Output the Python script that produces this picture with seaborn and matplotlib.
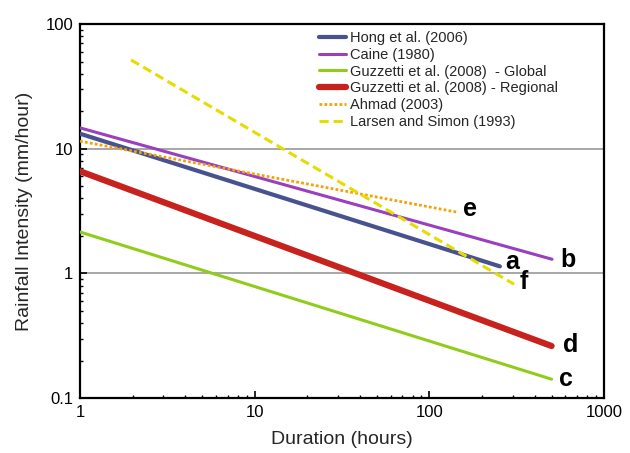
import matplotlib
matplotlib.use("Agg")
import matplotlib.pyplot as plt
import matplotlib.ticker as mticker
import pandas as pd
import seaborn as sns

# rainfall intensity-duration thresholds, endpoints (hours, mm/hour)
SERIES = [
    "Hong et al. (2006)",
    "Caine (1980)",
    "Guzzetti et al. (2008)  - Global",
    "Guzzetti et al. (2008) - Regional",
    "Ahmad (2003)",
    "Larsen and Simon (1993)",
]
DURATION = [
    [1, 253],
    [1, 503],
    [1, 500],
    [1, 500],
    [1, 144],
    [1.96, 305],
]
INTENSITY = [
    [13.2, 1.14],
    [14.7, 1.30],
    [2.15, 0.142],
    [6.6, 0.262],
    [11.5, 3.1],
    [51.5, 0.82],
]
CURVE_LABELS = ["a", "b", "c", "d", "e", "f"]

COLORS = ["#48528e", "#9a3fbe", "#8fcc1c", "#c8221e", "#f5a10a", "#e6dc00"]
WIDTHS = [3.0, 2.2, 2.2, 4.5, 2.0, 2.2]
STYLES = ["-", "-", "-", "-", (0, (1, 0.8)), (0, (3, 1.6))]
LABEL_OFFSETS = [(5, 4), (8, -1), (7, 0), (11, 1), (6, 3), (6, 2)]


def main():
    sns.set_theme(style="ticks")
    plt.rcParams["font.family"] = ["Liberation Sans", "DejaVu Sans"]

    fig = plt.figure(figsize=(6.3, 4.53), dpi=100)
    ax = fig.add_axes([0.127, 0.121, 0.832, 0.826])

    for i, name in enumerate(SERIES):
        df = pd.DataFrame({"duration": DURATION[i], "intensity": INTENSITY[i]})
        sns.lineplot(data=df, x="duration", y="intensity", ax=ax, color=COLORS[i],
                     lw=WIDTHS[i], linestyle=STYLES[i], label=name, zorder=3,
                     solid_capstyle="round")
        ax.annotate(CURVE_LABELS[i], (DURATION[i][-1], INTENSITY[i][-1]),
                    xytext=LABEL_OFFSETS[i], textcoords="offset pixels",
                    ha="left", va="center", fontsize=18, fontweight="bold", color="black")

    ax.set_xscale("log")
    ax.set_yscale("log")
    ax.set_xlim(1, 1000)
    ax.set_ylim(0.1, 100)

    fmt = mticker.FuncFormatter(lambda v, _: f"{v:g}")
    ax.xaxis.set_major_formatter(fmt)
    ax.yaxis.set_major_formatter(fmt)
    ax.xaxis.set_minor_formatter(mticker.NullFormatter())
    ax.yaxis.set_minor_formatter(mticker.NullFormatter())

    ax.yaxis.grid(True, which="major", color="#a0a0a0", lw=1.3)
    ax.xaxis.grid(False)
    ax.set_axisbelow(True)

    ax.tick_params(which="major", direction="in", length=5, width=1.2, labelsize=12,
                   pad=5, colors="black")
    ax.tick_params(which="minor", direction="in", length=2.5, width=1.0, colors="black")
    for spine in ax.spines.values():
        spine.set_visible(True)
        spine.set_color("black")
        spine.set_linewidth(1.6)

    ax.set_xlabel("Duration (hours)", fontsize=14, labelpad=8)
    ax.set_ylabel("Rainfall Intensity (mm/hour)", fontsize=14, labelpad=9)

    ax.legend(loc="upper left", bbox_to_anchor=(0.455, 0.982), frameon=False,
              fontsize=10.5, borderpad=0, borderaxespad=0, handlelength=1.9,
              handletextpad=0.25, labelspacing=0.2)

    fig.savefig("out.png", dpi=100)
    plt.close(fig)


if __name__ == "__main__":
    main()
